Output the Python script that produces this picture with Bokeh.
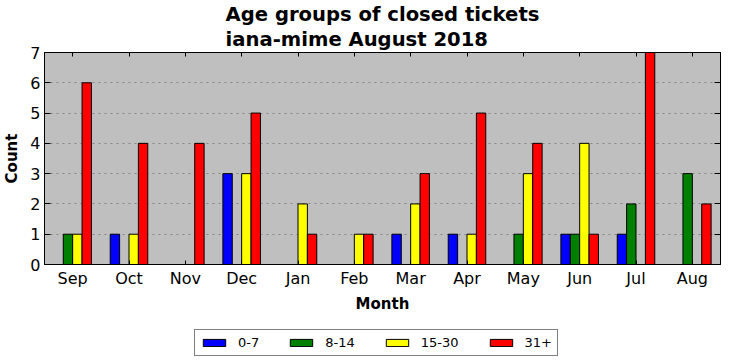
from bokeh.plotting import figure
from bokeh.layouts import column
from bokeh.models import (FactorRange, Range1d, Legend, LegendItem, CategoricalAxis,
                          LinearAxis, ColumnDataSource, FixedTicker, Title)
from bokeh.transform import dodge
from bokeh.embed import file_html
from bokeh.resources import INLINE

months = ["Sep", "Oct", "Nov", "Dec", "Jan", "Feb", "Mar", "Apr", "May", "Jun", "Jul", "Aug"]
age_0_7 = [0, 1, 0, 3, 0, 0, 1, 1, 0, 1, 1, 0]
age_8_14 = [1, 0, 0, 0, 0, 0, 0, 0, 1, 1, 2, 3]
age_15_30 = [1, 1, 0, 3, 2, 1, 2, 1, 3, 4, 0, 0]
age_31_plus = [6, 4, 4, 5, 1, 1, 3, 5, 4, 1, 7, 2]
series_labels = ["0-7", "8-14", "15-30", "31+"]
series_colors = ["#0000ff", "#008000", "#ffff00", "#ff0000"]
y_ticks = [0, 1, 2, 3, 4, 5, 6, 7]

FONT = "DejaVu Sans"

src = ColumnDataSource(dict(month=months, a=age_0_7, b=age_8_14, c=age_15_30, d=age_31_plus))

p = figure(x_range=FactorRange(*months, range_padding=0), y_range=Range1d(0, 7),
           frame_width=676, frame_height=212, output_backend="svg", toolbar_location=None,
           min_border_left=38, min_border_right=2, min_border_top=45, min_border_bottom=0)
p.x_range.factor_padding = 0
p.title = Title(text="Age groups of closed tickets\niana-mime August 2018", align="center",
                text_font=FONT, text_font_size="19.6px", text_font_style="bold",
                text_color="black", standoff=2, text_line_height=1.1)

p.background_fill_color = "#bfbfbf"
p.border_fill_color = "white"
p.outline_line_color = "black"
p.outline_line_width = 1

w = 1.0 / 6.0
offsets = [-0.25, -1.0 / 12.0, 1.0 / 12.0, 0.25]
cols = ["a", "b", "c", "d"]
for col, off, color in zip(cols, offsets, series_colors):
    p.vbar(x=dodge("month", off, range=p.x_range), top=col, bottom=0, width=w,
           source=src, fill_color=color, line_color="black", line_width=1)

xa = p.xaxis[0]
xa.axis_label = "Month"
xa.axis_label_text_font = FONT
xa.axis_label_text_font_size = "15px"
xa.axis_label_text_font_style = "bold"
xa.axis_label_text_color = "black"
xa.axis_label_standoff = 4
xa.major_label_text_font = FONT
xa.major_label_text_font_size = "16px"
xa.major_label_text_color = "black"
xa.major_tick_in = 4
xa.major_tick_out = 0
xa.major_label_standoff = 4
xa.axis_line_color = "black"
xa.major_tick_line_color = "black"

ya = p.yaxis[0]
ya.axis_label = "Count"
ya.axis_label_text_font = FONT
ya.axis_label_text_font_size = "15px"
ya.axis_label_text_font_style = "bold"
ya.axis_label_text_color = "black"
ya.axis_label_standoff = 6
ya.major_label_text_font = FONT
ya.major_label_text_font_size = "16px"
ya.major_label_text_color = "black"
ya.ticker = FixedTicker(ticks=y_ticks)
ya.major_tick_in = 6
ya.major_tick_out = 0
ya.minor_tick_line_color = None
ya.major_label_standoff = 4
ya.axis_line_color = "black"

top_axis = CategoricalAxis(major_label_text_font_size="1px", major_label_text_alpha=0,
                           major_tick_in=4, major_tick_out=0,
                           major_label_standoff=0, axis_line_color="black")
p.add_layout(top_axis, "above")
right_axis = LinearAxis(ticker=FixedTicker(ticks=y_ticks),
                        major_label_text_font_size="1px", major_label_text_alpha=0,
                        major_tick_in=6, major_tick_out=0, minor_tick_line_color=None,
                        major_label_standoff=0, axis_line_color="black")
p.add_layout(right_axis, "right")

p.xgrid.grid_line_color = None
p.ygrid.ticker = FixedTicker(ticks=y_ticks)
p.ygrid.grid_line_color = "#858585"
p.ygrid.grid_line_dash = "2 4"
p.ygrid.grid_line_width = 1

# legend strip below the chart (its bars use the same data but lie outside its y range)
lp = figure(x_range=p.x_range, y_range=Range1d(100, 101), frame_width=716, frame_height=43,
            x_axis_type=None, y_axis_type=None, output_backend="svg", toolbar_location=None,
            min_border=0, min_border_left=0, min_border_right=0,
            min_border_top=0, min_border_bottom=0)
lp.outline_line_color = None
lp.background_fill_color = "white"
lp.border_fill_color = "white"
items = []
for col, off, color, lab in zip(cols, offsets, series_colors, series_labels):
    r = lp.vbar(x=dodge("month", off, range=p.x_range), top=col, bottom=0, width=w,
                source=src, fill_color=color, line_color="black", line_width=1)
    items.append(LegendItem(label=lab, renderers=[r]))

legend = Legend(items=items, orientation="horizontal", location=(194, 2),
                border_line_color="black", border_line_width=1, background_fill_color="white",
                label_text_font=FONT, label_text_font_size="13px", label_text_color="black",
                glyph_width=28, glyph_height=9, label_height=13, label_standoff=10,
                spacing=28, padding=5, margin=0)
lp.add_layout(legend, "center")

layout = column(p, lp, spacing=0)
open("out.html", "w").write(file_html(layout, INLINE))
